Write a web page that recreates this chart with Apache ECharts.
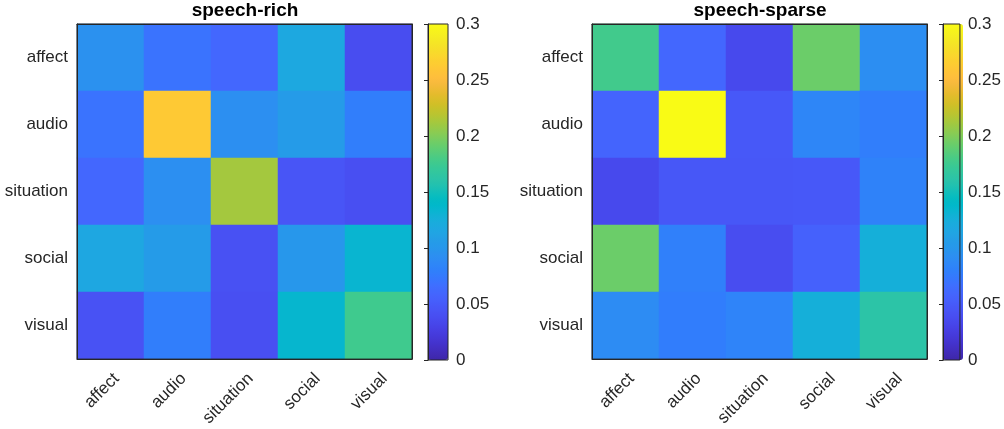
<!DOCTYPE html>
<html>
<head>
<meta charset="utf-8">
<script src="https://cdn.jsdelivr.net/npm/echarts@6/dist/echarts.min.js"></script>
<style>body{margin:0;background:#fff}#main{width:1004px;height:429px}</style>
</head>
<body>
<div id="main"></div>
<script>
var labels=['affect','audio','situation','social','visual'];
// rows: affect, audio, situation, social, visual (top to bottom)
var richVals=[
    [0.095,0.070,0.060,0.118,0.038],
    [0.070,0.262,0.093,0.105,0.078],
    [0.060,0.093,0.212,0.045,0.040],
    [0.117,0.105,0.042,0.100,0.133],
    [0.043,0.078,0.040,0.135,0.176]
];
var sparseVals=[
    [0.177,0.060,0.035,0.193,0.092],
    [0.058,0.300,0.048,0.085,0.078],
    [0.035,0.047,0.047,0.048,0.082],
    [0.193,0.080,0.038,0.055,0.126],
    [0.090,0.077,0.083,0.126,0.162]
];
var titles=['speech-rich','speech-sparse'];
var cMin=0, cMax=0.3, cStep=0.05;

// parula colormap
var parula=[[0.2422,0.1504,0.6603],[0.2504,0.1650,0.7076],[0.2578,0.1818,0.7511],[0.2647,0.1978,0.7952],[0.2706,0.2147,0.8364],[0.2751,0.2342,0.8710],[0.2783,0.2559,0.8991],[0.2803,0.2782,0.9221],[0.2813,0.3006,0.9414],[0.2810,0.3228,0.9579],[0.2795,0.3447,0.9717],[0.2760,0.3667,0.9829],[0.2699,0.3892,0.9906],[0.2602,0.4123,0.9952],[0.2440,0.4358,0.9988],[0.2206,0.4603,0.9973],[0.1963,0.4847,0.9892],[0.1834,0.5074,0.9798],[0.1786,0.5289,0.9682],[0.1764,0.5499,0.9520],[0.1687,0.5703,0.9359],[0.1540,0.5902,0.9218],[0.1460,0.6091,0.9079],[0.1380,0.6276,0.8973],[0.1248,0.6459,0.8883],[0.1113,0.6635,0.8763],[0.0952,0.6798,0.8598],[0.0689,0.6948,0.8394],[0.0297,0.7082,0.8163],[0.0036,0.7203,0.7917],[0.0067,0.7312,0.7660],[0.0433,0.7411,0.7394],[0.0964,0.7500,0.7120],[0.1408,0.7584,0.6842],[0.1717,0.7670,0.6554],[0.1938,0.7758,0.6251],[0.2161,0.7843,0.5923],[0.2470,0.7918,0.5567],[0.2906,0.7973,0.5188],[0.3406,0.8008,0.4789],[0.3909,0.8029,0.4354],[0.4456,0.8024,0.3909],[0.5044,0.7993,0.3480],[0.5616,0.7942,0.3045],[0.6174,0.7876,0.2612],[0.6720,0.7793,0.2227],[0.7242,0.7698,0.1910],[0.7738,0.7598,0.1646],[0.8203,0.7498,0.1535],[0.8634,0.7406,0.1596],[0.9035,0.7330,0.1774],[0.9393,0.7288,0.2100],[0.9728,0.7298,0.2394],[0.9956,0.7434,0.2371],[0.9970,0.7659,0.2199],[0.9952,0.7893,0.2028],[0.9892,0.8136,0.1885],[0.9786,0.8386,0.1766],[0.9676,0.8639,0.1643],[0.9610,0.8890,0.1537],[0.9597,0.9135,0.1423],[0.9628,0.9373,0.1265],[0.9691,0.9606,0.1064],[0.9769,0.9839,0.0805]];
var parulaColors=parula.map(function(c){
    return 'rgb('+Math.round(c[0]*255)+','+Math.round(c[1]*255)+','+Math.round(c[2]*255)+')';
});

function toCells(m){
    var out=[];
    m.forEach(function(row,i){
        row.forEach(function(v,j){ out.push([j,i,v]); });
    });
    return out;
}

var font='Helvetica, "Liberation Sans", Arial, sans-serif';
var ink='#262626';
var fs=17;

// panel positions
var panels=[
    {left:77, cbLeft:428, titleX:245},
    {left:592, cbLeft:943, titleX:760}
];
var plotTop=24, plotH=336, plotW=335, cbW=20;

var grid=[], xAxis=[], yAxis=[], series=[], visualMap=[], title=[];
[richVals,sparseVals].forEach(function(vals,p){
    var P=panels[p];
    var g=grid.length;
    grid.push({left:P.left,top:plotTop,width:plotW,height:plotH,show:true,borderColor:ink,borderWidth:1,z:10,backgroundColor:'transparent'});
    grid.push({left:P.cbLeft,top:plotTop,width:cbW,height:plotH,show:true,borderColor:ink,borderWidth:1,z:10,backgroundColor:'transparent'});

    xAxis.push({type:'category',gridIndex:g,data:labels,position:'bottom',z:10,
        axisLine:{lineStyle:{color:ink}},
        axisTick:{inside:true,alignWithLabel:true,length:4,lineStyle:{color:ink}},
        axisLabel:{rotate:45,color:ink,fontSize:fs,fontFamily:font,margin:11,verticalAlign:'top'},
        splitLine:{show:false}});
    xAxis.push({type:'category',gridIndex:g,data:labels,position:'top',z:10,
        axisLine:{lineStyle:{color:ink}},
        axisTick:{inside:true,alignWithLabel:true,length:4,lineStyle:{color:ink}},
        axisLabel:{show:false}});
    xAxis.push({type:'value',gridIndex:g+1,show:false,min:0,max:1});

    yAxis.push({type:'category',gridIndex:g,data:labels,inverse:true,position:'left',z:10,
        axisLine:{lineStyle:{color:ink}},
        axisTick:{inside:true,alignWithLabel:true,length:4,lineStyle:{color:ink}},
        axisLabel:{color:ink,fontSize:fs,fontFamily:font,margin:9}});
    yAxis.push({type:'category',gridIndex:g,data:labels,inverse:true,position:'right',z:10,
        axisLine:{lineStyle:{color:ink}},
        axisTick:{inside:true,alignWithLabel:true,length:4,lineStyle:{color:ink}},
        axisLabel:{show:false}});
    yAxis.push({type:'value',gridIndex:g+1,position:'right',min:cMin,max:cMax,interval:cStep,z:10,
        axisLine:{show:true,lineStyle:{color:ink}},
        axisTick:{show:true,inside:true,length:4,lineStyle:{color:ink}},
        splitLine:{show:false},
        axisLabel:{color:ink,fontSize:fs,fontFamily:font,margin:8,
            formatter:function(v){ return String(Math.round(v*100)/100); }}});

    series.push({type:'heatmap',name:titles[p],xAxisIndex:xAxis.length-3,yAxisIndex:yAxis.length-3,
        data:toCells(vals),itemStyle:{borderWidth:0},emphasis:{disabled:true}});

    visualMap.push({type:'continuous',seriesIndex:p,min:cMin,max:cMax,calculable:false,hoverLink:false,
        orient:'vertical',left:P.cbLeft,top:plotTop,itemWidth:cbW,itemHeight:plotH,padding:0,
        showLabel:false,inRange:{color:parulaColors},z:4});

    title.push({text:titles[p],left:P.titleX,top:1,textAlign:'center',padding:0,
        textStyle:{fontFamily:font,fontWeight:'bold',fontSize:19,color:'#000'}});
});

var myChart=echarts.init(document.getElementById('main'),null,{renderer:'canvas'});
myChart.setOption({
    animation:false,
    title:title,
    grid:grid,
    xAxis:xAxis,
    yAxis:yAxis,
    visualMap:visualMap,
    series:series
});
</script>
</body>
</html>
